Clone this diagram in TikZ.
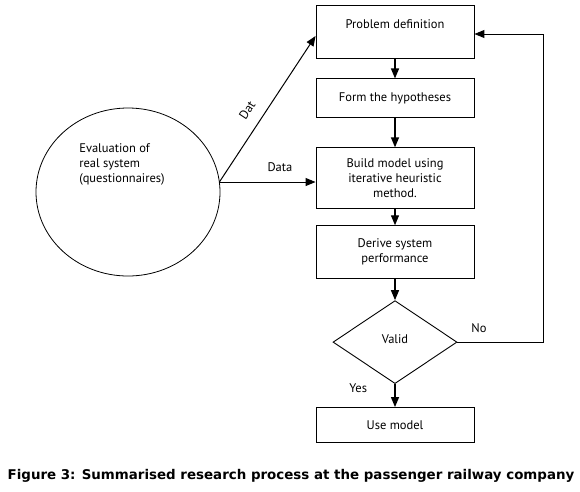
\documentclass[tikz,border=0pt]{standalone}
\usepackage{fontspec}
\setmainfont{PT Sans}
\newfontfamily\capfont{DejaVu Sans}
\usetikzlibrary{arrows.meta,positioning,shapes.geometric,calc}
\tikzset{
  stage/.style={draw=black, line width=0.9pt, align=center, fill=white,
    minimum width=158pt, inner sep=3pt, font=\fontsize{12.5}{15}\selectfont},
  decision/.style={diamond, draw=black, line width=0.9pt, aspect=1.49,
    minimum width=124pt, minimum height=83pt, inner sep=0pt, font=\fontsize{12.5}{15}\selectfont},
  source/.style={ellipse, draw=black, line width=0.8pt, minimum width=184pt, minimum height=168pt},
  arr/.style={-{Triangle[length=10pt,width=8pt]}, line width=1.3pt},
  farr/.style={-{Triangle[length=10pt,width=8pt]}, line width=1pt},
  lbl/.style={font=\fontsize{12.5}{15}\selectfont}
}
\begin{document}
\begin{tikzpicture}[x=1pt, y=1pt]
  \useasboundingbox (0,0) rectangle (580,-491);

  \node[stage, minimum height=53pt] (prob) at (395,-31.5) {Problem definition\\~};
  \node[stage, minimum height=39pt, below=20pt of prob] (hyp) {Form the hypotheses};
  \node[stage, minimum height=61pt, below=29pt of hyp] (build) {Build model using\\iterative heuristic\\method.};
  \node[stage, minimum height=53pt, below=16pt of build] (perf) {Derive system\\performance};
  \node[decision, below=21pt of perf] (valid) {\raisebox{6pt}{Valid}};
  \node[stage, minimum height=35pt, below=23pt of valid] (use) {Use model};

  \node[source, label={[lbl, align=left, yshift=28pt, xshift=-6pt]center:{Evaluation of\\real system\\(questionnaires)}}] (eval) at (128,-192) {};
  \coordinate (out) at ($(eval.east)+(-1,10)$);

  \draw[farr] (out) -- node[lbl, pos=0.43, sloped, above=8pt] {Dat} (prob.west |- 0,-36);
  \draw[farr] (out) -- node[lbl, pos=0.63, above=7pt] {Data} (build.west |- out);

  \draw[arr] (prob) -- (hyp);
  \draw[arr] (hyp) -- (build);
  \draw[arr] (build) -- (perf);
  \draw[arr] (perf) -- (valid);
  \draw[arr] (valid) -- node[lbl, pos=0.2, left=24pt] {Yes} (use);
  \draw[farr] (valid.east) -- node[lbl, pos=0.25, above=6pt] {No} ++(86,0) |- (prob.east |- 0,-34);

  \node[font=\capfont\bfseries\fontsize{13.4}{16}\selectfont] (cap) at (291,-476)
    {Figure 3: Summarised research process at the passenger railway company};
\end{tikzpicture}
\end{document}
